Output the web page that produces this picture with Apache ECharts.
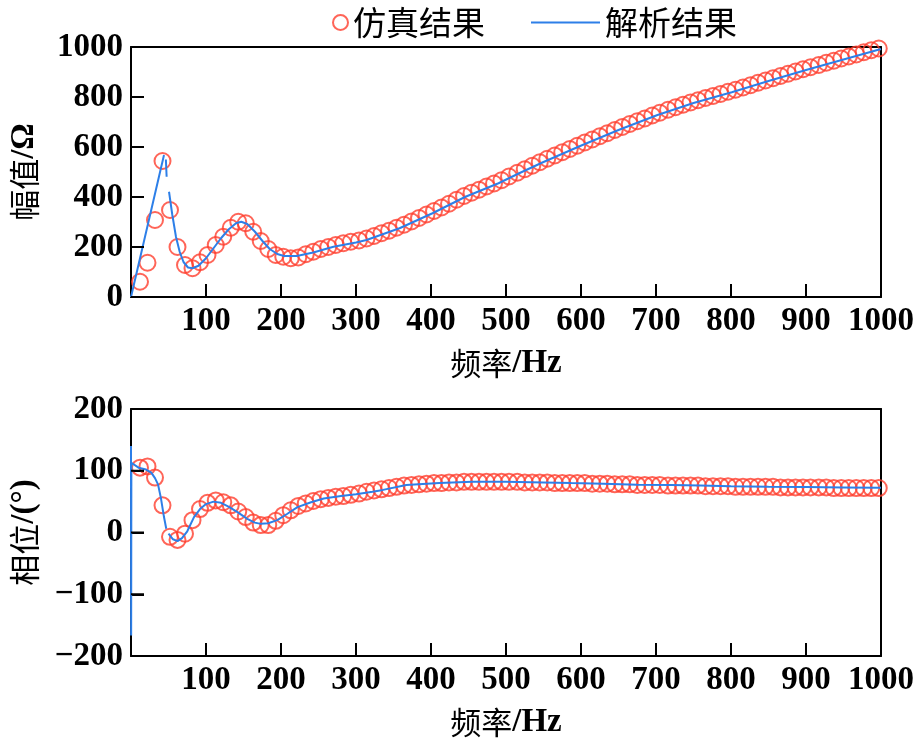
<!DOCTYPE html>
<html><head><meta charset="utf-8">
<script src="https://cdn.jsdelivr.net/npm/echarts@6/dist/echarts.min.js"></script>
<style>html,body{margin:0;padding:0;background:#fff}#c{width:917px;height:740px}</style>
</head><body><div id="c"></div>
<script>
// Simulation sample frequencies (Hz)
const simFreq = [12,22,32,42,52,62,72,82,92,102,113,123,133,143,153,163,173,183,193,203,213,223,233,243,253,263,273,283,293,304,314,324,334,344,354,364,374,384,394,404,414,424,434,444,454,464,474,484,494,504,515,525,535,545,555,565,575,585,595,605,615,625,635,645,655,665,675,685,695,705,716,726,736,746,756,766,776,786,796,806,816,826,836,846,856,866,876,886,896,906,917,927,937,947,957,967,977,987,997];
// Simulation magnitude (Ohm)
const simMag = [61,137,308,544,348,200,128,115,139,168,208,241,277,301,295,261,224,192,168,161,155,158,171,181,192,200,208,215,221,226,234,244,255,265,277,289,302,316,330,344,358,373,389,404,417,429,442,454,467,482,497,511,525,539,553,566,579,592,605,618,630,643,655,668,680,692,703,714,726,737,749,759,769,778,787,796,804,812,821,829,838,847,857,866,875,884,893,902,911,919,928,937,945,954,962,970,979,987,994];
// Simulation phase (deg)
const simPhase = [105,107,89,44,-7,-12,-2,20,38,48,52,49,44,34,25,16,12,12,19,28,36,43,47,51,54,56,58,59,61,63,66,68,70,72,74,76,77,78,79,80,80,81,81,82,82,82,82,82,82,82,82,81,81,81,81,80,80,80,80,80,79,79,79,78,78,78,77,77,77,77,76,76,76,76,76,75,75,75,75,74,74,74,74,74,74,73,73,73,73,73,73,73,72,72,72,72,72,72,72];
// Analytical magnitude curve (null = break)
const anaMagFreq = [0,44,null,46.5,47.5,null,50.7,55,60,65,70,76,82,90,100,110,120,130,140,147,155,165,175,185,195,204,221,243,270,300,314,358,402,446,490,519,550,602,650,702,750,801,850,900,950,1000];
const anaMag =     [0,568,null,550,481,null,421,330,240,180,140,118,115,125,155,195,235,270,295,301,292,262,225,192,172,164,164,178,201,218,228,275,335,401,455,497,540,608,668,728,776,819,864,908,950,992];
// Analytical phase curve
const anaPhFreq = [0,0.2,0.5,10,20,27,32,36,40,44,47,null,50,56,62,68,75,84,92,100,110,120,130,142,155,165,173,183,195,208,222,240,257,280,300,322,336,367,411,455,499,550,587,630,675,720,759,800,850,900,950,1000];
const anaPhase =  [140,-167,113,105,102,97,88,78,55,25,6,null,-2,-11,-14,-9,2,25,38,46,50,48,42,33,22,16,14,15,20,30,41,49,55,59,62,66,69,77,80,82,82,81,80,79,77.5,77,76,75,74,73.5,73,72.5];
// Tick labels
const xTicks = [100,200,300,400,500,600,700,800,900,1000];
const magTicks = [0,200,400,600,800,1000];
const phTicks = [-200,-100,0,100,200];

const RED = '#ff3f2e', BLUE = '#2d7fe8';
const LAT = 'Liberation Serif, "Noto Sans CJK SC", serif';
const pair = (xs, ys) => xs.map((x, i) => (x === null || ys[i] === null) ? '-' : [x, ys[i]]);

const chart = echarts.init(document.getElementById('c'), null, {renderer: 'canvas'});
const axisLabel = {color: '#000', fontFamily: LAT, fontWeight: 'bold', fontSize: 33};
const nameStyle = {
  color: '#000', fontSize: 32,
  rich: {
    c: {fontFamily: '"Noto Sans CJK SC"', fontSize: 31, color: '#000', fontWeight: 'normal'},
    l: {fontFamily: 'Liberation Serif', fontSize: 33, color: '#000', fontWeight: 'bold'}
  }
};
const tickStyle = {show: true, inside: true, length: 13, lineStyle: {color: '#000', width: 2}};
const xAxisMain = (gi) => ({
  type: 'value', gridIndex: gi, min: 0, max: 1000, interval: 100, position: 'bottom',
  axisLine: {show: true, onZero: false, lineStyle: {color: '#000', width: 2}},
  axisTick: tickStyle,
  splitLine: {show: false},
  axisLabel: Object.assign({}, axisLabel, {margin: 8, formatter: v => xTicks.includes(v) ? String(v) : ''}),
  name: '{c|频率}{l|/Hz}', nameLocation: 'middle', nameGap: 50, nameTextStyle: nameStyle
});
const xAxisTop = (gi) => ({
  type: 'value', gridIndex: gi, min: 0, max: 1000, position: 'top',
  axisLine: {show: true, onZero: false, lineStyle: {color: '#000', width: 2}},
  axisTick: {show: false}, axisLabel: {show: false}, splitLine: {show: false}
});
const yAxisMain = (gi, ticks, name, interval) => ({
  type: 'value', gridIndex: gi, min: ticks[0], max: ticks[ticks.length - 1], interval: interval, position: 'left',
  axisLine: {show: true, onZero: false, lineStyle: {color: '#000', width: 2}},
  axisTick: tickStyle,
  splitLine: {show: false},
  axisLabel: Object.assign({}, axisLabel, {margin: 8, formatter: v => String(v).replace('-', '\u2212')}),
  name: name, nameLocation: 'middle', nameGap: 90, nameTextStyle: nameStyle
});
const yAxisRight = (gi, ticks) => ({
  type: 'value', gridIndex: gi, min: ticks[0], max: ticks[ticks.length - 1], position: 'right',
  axisLine: {show: true, onZero: false, lineStyle: {color: '#000', width: 2}},
  axisTick: {show: false}, axisLabel: {show: false}, splitLine: {show: false}
});

chart.setOption({
  animation: false,
  backgroundColor: '#fff',
  grid: [
    {left: 126, top: 47, width: 756, height: 250},
    {left: 126, top: 409, width: 756, height: 249}
  ],
  legend: [
    {data: [{name: '仿真结果', icon: 'circle', itemStyle: {color: '#fff', borderColor: RED, borderWidth: 2}}],
     left: 327, top: 1, itemWidth: 15, itemHeight: 15, itemGap: 8,
     textStyle: {color: '#000', fontSize: 33, fontFamily: '"Noto Sans CJK SC"'}},
    {data: [{name: '解析结果', icon: 'rect', itemStyle: {color: BLUE}}], left: 526, top: 1, itemWidth: 69, itemHeight: 2,
     textStyle: {color: '#000', fontSize: 33, fontFamily: '"Noto Sans CJK SC"'}}
  ],
  xAxis: [xAxisMain(0), xAxisMain(1), xAxisTop(0), xAxisTop(1)],
  yAxis: [yAxisMain(0, magTicks, '{c|幅值}{l|/Ω}', 200), yAxisMain(1, phTicks, '{c|相位}{l|/(°)}', 100),
          yAxisRight(0, magTicks), yAxisRight(1, phTicks)],
  series: [
    {name: '仿真结果', type: 'scatter', xAxisIndex: 0, yAxisIndex: 0, symbol: 'circle', symbolSize: 16,
     itemStyle: {color: 'rgba(0,0,0,0)', borderColor: RED, borderWidth: 2}, z: 2,
     data: simFreq.map((f, i) => [f, simMag[i]])},
    {name: '解析结果', type: 'line', xAxisIndex: 0, yAxisIndex: 0, symbol: 'none', showSymbol: false,
     lineStyle: {color: BLUE, width: 2}, itemStyle: {color: BLUE}, z: 3, connectNulls: false,
     data: pair(anaMagFreq, anaMag)},
    {name: '仿真结果', type: 'scatter', xAxisIndex: 1, yAxisIndex: 1, symbol: 'circle', symbolSize: 16,
     itemStyle: {color: 'rgba(0,0,0,0)', borderColor: RED, borderWidth: 2}, z: 2,
     data: simFreq.map((f, i) => [f, simPhase[i]])},
    {name: '解析结果', type: 'line', xAxisIndex: 1, yAxisIndex: 1, symbol: 'none', showSymbol: false,
     lineStyle: {color: BLUE, width: 2}, itemStyle: {color: BLUE}, z: 3, connectNulls: false,
     data: pair(anaPhFreq, anaPhase)}
  ]
});

// Inward tick marks as filled rectangles, placed through the axes' own scales
const TICK = 13, TW = 2;
const tickGraphics = [];
const addTicks = (gi, yTicks) => {
  const finder = {xAxisIndex: gi, yAxisIndex: gi};
  const yMin = yTicks[0];
  xTicks.forEach(v => {
    const p = chart.convertToPixel(finder, [v, yMin]);
    if (p) tickGraphics.push({type: 'rect', z: 100, silent: true,
      shape: {x: p[0] - TW / 2, y: p[1] - TICK, width: TW, height: TICK},
      style: {fill: '#000'}});
  });
  yTicks.forEach(v => {
    const p = chart.convertToPixel(finder, [0, v]);
    if (p) tickGraphics.push({type: 'rect', z: 100, silent: true,
      shape: {x: p[0], y: p[1] - TW / 2, width: TICK, height: TW},
      style: {fill: '#000'}});
  });
};
addTicks(0, magTicks);
addTicks(1, phTicks);
chart.setOption({graphic: {elements: tickGraphics}});
</script></body></html>
